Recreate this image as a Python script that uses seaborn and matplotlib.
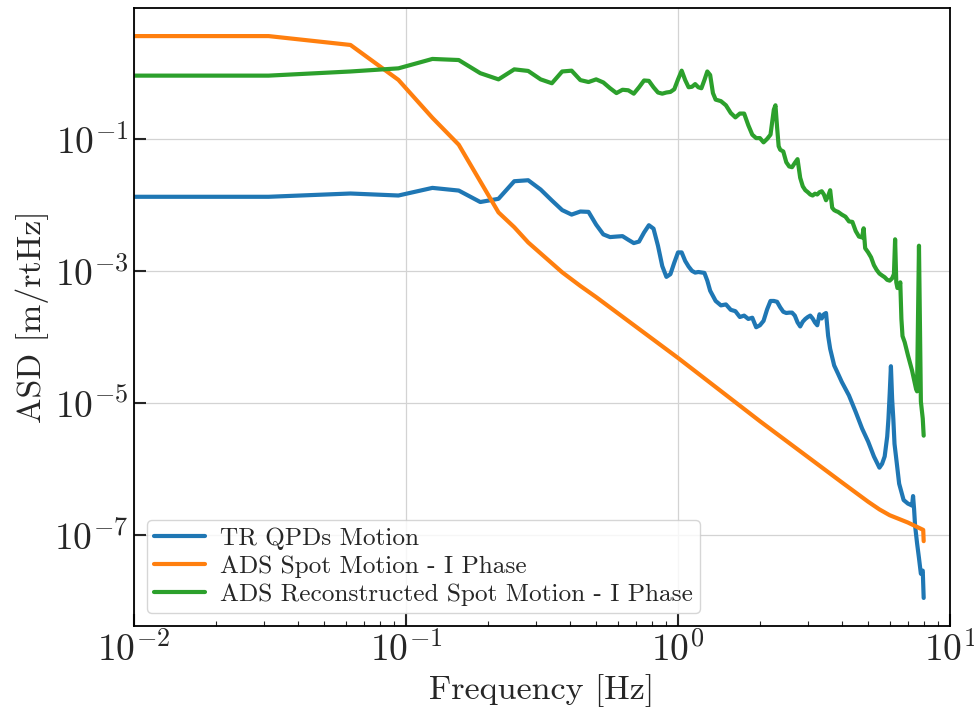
import numpy as np
import pandas as pd
import matplotlib
matplotlib.use("Agg")
import matplotlib.pyplot as plt
import matplotlib.ticker as mticker
import seaborn as sns

# ---------------- data ----------------
labels = ["TR QPDs Motion", "ADS Spot Motion - I Phase", "ADS Reconstructed Spot Motion - I Phase"]

tr_freq = [0.001, 0.03125, 0.0625, 0.09375, 0.125, 0.15625, 0.1875, 0.21875, 0.25, 0.28125,
           0.3125, 0.34375, 0.375, 0.40625, 0.4375, 0.46875, 0.5, 0.53125, 0.5625, 0.59375,
           0.625, 0.65625, 0.6875, 0.71875, 0.75, 0.78125, 0.8125, 0.84375, 0.875, 0.90625,
           0.9375, 0.96875, 1.0, 1.03125, 1.0625, 1.09375, 1.125, 1.15625, 1.1875, 1.25,
           1.28125, 1.3125, 1.375, 1.4375, 1.5, 1.5625, 1.625, 1.6875, 1.75, 1.8125,
           1.875, 1.9375, 2.0, 2.0625, 2.125, 2.1875, 2.25, 2.3125, 2.375, 2.4375,
           2.5, 2.5625, 2.625, 2.6875, 2.75, 2.8125, 2.875, 2.9375, 3.0, 3.0625,
           3.125, 3.1875, 3.25, 3.3125, 3.375, 3.4375, 3.5, 3.5625, 3.625, 3.75,
           3.875, 4.0, 4.25, 4.5, 4.75, 5.0, 5.25, 5.5, 5.625, 5.75,
           5.875, 5.9375, 6.0, 6.0625, 6.125, 6.1875, 6.25, 6.375, 6.5, 6.75,
           7.0, 7.125, 7.25, 7.3125, 7.375, 7.4375, 7.5625, 7.6875, 7.8125, 7.875,
           7.9375, 8.0]
tr_asd = [0.0132, 0.0132, 0.0148, 0.0138, 0.0180, 0.0164, 0.0110, 0.0123, 0.0227, 0.0235,
          0.0170, 0.0116, 0.0083, 0.0071, 0.0079, 0.0078, 0.0050, 0.00356, 0.00324, 0.0033,
          0.00335, 0.00295, 0.00263, 0.00277, 0.0038, 0.0049, 0.00435, 0.0024, 0.00118, 0.00081,
          0.00089, 0.00133, 0.0019, 0.0019, 0.00141, 0.00116, 0.0010, 0.00094, 0.00096, 0.00093,
          0.00071, 0.00050, 0.00035, 0.00030, 0.00031, 0.000257, 0.000245, 0.00020, 0.00021, 0.000187,
          0.000195, 0.00014, 0.00015, 0.000175, 0.00026, 0.00035, 0.00035, 0.00034, 0.00028, 0.00024,
          0.00023, 0.000233, 0.000233, 0.00021, 0.000166, 0.000144, 0.00017, 0.000187, 0.00020, 0.00021,
          0.00019, 0.000165, 0.00015, 0.00022, 0.00019, 0.00022, 0.00023, 0.000104, 6.6e-5, 3.7e-5,
          2.77e-5, 2.08e-5, 1.3e-5, 7.3e-6, 4.1e-6, 2.6e-6, 1.55e-6, 1.05e-6, 1.2e-6, 1.55e-6,
          3.1e-6, 5.8e-6, 1.38e-5, 3.6e-5, 1.15e-5, 5.7e-6, 2.4e-6, 1.2e-6, 6.0e-7, 3.4e-7,
          3.0e-7, 2.9e-7, 2.8e-7, 3.9e-7, 2.5e-7, 1.4e-7, 7.6e-8, 4.5e-8, 2.6e-8, 2.8e-8,
          2.9e-8, 1.12e-8]

ads_freq = [0.001, 0.03125, 0.0625, 0.09375, 0.125, 0.15625, 0.21875, 0.25, 0.28125, 0.375,
            0.4375, 0.5, 1.0, 2.0, 4.0, 5.0, 5.5, 6.0, 7.0, 7.96875, 8.0]
ads_asd = [3.57, 3.57, 2.62, 0.776, 0.207, 0.081, 0.00766, 0.00457, 0.00269, 9.5e-4,
           5.9e-4, 4.0e-4, 4.8e-5, 5.3e-6, 6.3e-7, 3.2e-7, 2.45e-7, 2.0e-7, 1.55e-7, 1.2e-7, 8.1e-8]

rec_freq = [0.001, 0.03125, 0.0625, 0.09375, 0.125, 0.15625, 0.1875, 0.21875, 0.25, 0.28125,
            0.3125, 0.34375, 0.375, 0.40625, 0.4375, 0.46875, 0.5, 0.53125, 0.5625, 0.59375,
            0.625, 0.65625, 0.6875, 0.71875, 0.75, 0.78125, 0.8125, 0.84375, 0.875, 0.90625,
            0.9375, 0.96875, 1.0, 1.03125, 1.0625, 1.09375, 1.125, 1.15625, 1.1875, 1.21875,
            1.25, 1.28125, 1.3125, 1.34375, 1.375, 1.4375, 1.5, 1.5625, 1.625, 1.6875,
            1.75, 1.8125, 1.875, 1.9375, 2.0, 2.0625, 2.125, 2.1875, 2.25, 2.28125,
            2.3125, 2.34375, 2.375, 2.4375, 2.5, 2.5625, 2.625, 2.6875, 2.75, 2.8125,
            2.875, 2.9375, 3.0, 3.0625, 3.125, 3.1875, 3.25, 3.3125, 3.375, 3.4375,
            3.5, 3.5625, 3.625, 3.6875, 3.75, 3.8125, 3.875, 4.0, 4.125, 4.25,
            4.375, 4.5, 4.625, 4.75, 4.8125, 4.875, 5.0, 5.125, 5.25, 5.375,
            5.5, 5.625, 5.75, 5.875, 6.0, 6.125, 6.21875, 6.28125, 6.34375, 6.40625,
            6.5, 6.5625, 6.625, 6.6875, 6.8125, 7.0, 7.25, 7.5, 7.5625, 7.6875,
            7.8125, 7.9375, 8.0]
rec_asd = [0.90, 0.90, 1.04, 1.16, 1.61, 1.55, 0.98, 0.79, 1.12, 1.06,
           0.79, 0.69, 1.04, 1.07, 0.77, 0.72, 0.79, 0.71, 0.58, 0.49,
           0.55, 0.54, 0.48, 0.60, 0.76, 0.75, 0.60, 0.50, 0.48, 0.50,
           0.51, 0.56, 0.79, 1.07, 0.77, 0.60, 0.61, 0.67, 0.60, 0.58,
           0.77, 1.04, 0.92, 0.49, 0.39, 0.37, 0.32, 0.245, 0.21, 0.24,
           0.24, 0.16, 0.115, 0.102, 0.102, 0.088, 0.099, 0.115, 0.275, 0.32,
           0.15, 0.077, 0.068, 0.064, 0.044, 0.038, 0.037, 0.043, 0.049, 0.0256,
           0.019, 0.0166, 0.0155, 0.0143, 0.0138, 0.0147, 0.0143, 0.0155, 0.016, 0.0143,
           0.0117, 0.0135, 0.0166, 0.0090, 0.0083, 0.0080, 0.0078, 0.0071, 0.0066, 0.0056,
           0.0055, 0.0040, 0.0033, 0.0032, 0.0044, 0.0022, 0.0019, 0.0016, 0.00122, 0.00103,
           0.00091, 0.00085, 0.00080, 0.00073, 0.00071, 0.00077, 0.00089, 0.0030, 0.00067, 0.00055,
           0.00055, 0.00067, 0.000187, 0.000103, 8.3e-5, 5.3e-5, 3.1e-5, 1.63e-5, 1.5e-5, 0.0024,
           1.05e-5, 5.8e-6, 3.2e-6]

y_ticks = [1e-7, 1e-5, 1e-3, 1e-1]

df = pd.concat([
    pd.DataFrame({"freq": tr_freq, "asd": tr_asd, "series": labels[0]}),
    pd.DataFrame({"freq": ads_freq, "asd": ads_asd, "series": labels[1]}),
    pd.DataFrame({"freq": rec_freq, "asd": rec_asd, "series": labels[2]}),
], ignore_index=True)

# ---------------- style ----------------
sns.set_style("ticks")
plt.rcParams.update({
    "font.family": "serif",
    "font.serif": ["cmr10"],
    "mathtext.fontset": "cm",
    "axes.formatter.use_mathtext": True,
    "axes.unicode_minus": False,
})

fig = plt.figure(figsize=(9.74, 7.14), dpi=100)
ax = fig.add_axes([0.1376, 0.1232, 0.8378, 0.8656])

palette = ["#1f77b4", "#ff7f0e", "#2ca02c"]
sns.lineplot(data=df, x="freq", y="asd", hue="series", hue_order=labels,
             palette=palette, estimator=None, sort=False, linewidth=3.0, ax=ax)
ax.set_xscale("log")
ax.set_yscale("log")
ax.set_xlim(1e-2, 1e1)

ax.yaxis.set_major_locator(mticker.FixedLocator(y_ticks))
ax.yaxis.set_minor_locator(mticker.NullLocator())
ax.xaxis.set_major_locator(mticker.LogLocator(base=10))
ax.xaxis.set_minor_locator(mticker.LogLocator(base=10, subs=np.arange(2, 10)))

ax.tick_params(which="major", direction="in", length=8.5, width=1.5, labelsize=27, pad=4)
ax.tick_params(which="minor", direction="in", length=3.5, width=0.8)
ax.tick_params(top=False, right=False, which="both")

for s in ax.spines.values():
    s.set_linewidth(1.3)
    s.set_color("black")

ax.grid(True, which="major", color="#d3d3d3", linewidth=0.9)
ax.set_axisbelow(True)

ax.set_xlabel("Frequency [Hz]", fontsize=24.5)
ax.set_ylabel("ASD [m/rtHz]", fontsize=24.5)

leg = ax.legend(loc="lower left", fontsize=18.2, frameon=True, framealpha=0.8,
                edgecolor="0.8", fancybox=True, labelspacing=0.2, handlelength=2.0,
                borderpad=0.3, handletextpad=0.6)
for line in leg.get_lines():
    line.set_linewidth(3.0)

fig.savefig("out.png", dpi=100)
